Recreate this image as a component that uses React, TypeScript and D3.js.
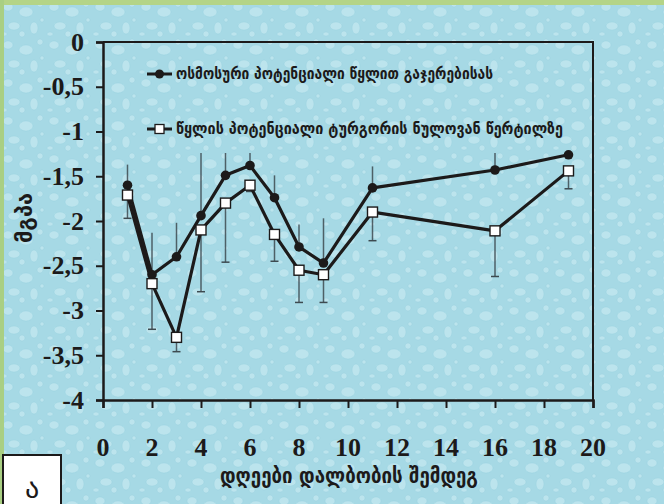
import React, { useEffect, useRef } from 'react';
import * as d3 from 'd3';

// days after soaking
const days = [1, 2, 3, 4, 5, 6, 7, 8, 9, 11, 16, 19];
// osmotic potential at full saturation (MPa)
const osmotic = [-1.6, -2.6, -2.4, -1.94, -1.49, -1.38, -1.74, -2.29, -2.47, -1.63, -1.43, -1.26];
const osmoticErr = [0.23, 0.47, 0.38, 0.7, 0.25, 0.14, 0.25, 0.25, 0.5, 0.24, 0.19, 0];
// water potential at zero turgor point (MPa)
const turgorZero = [-1.71, -2.7, -3.3, -2.1, -1.8, -1.6, -2.15, -2.55, -2.6, -1.9, -2.11, -1.44];
const turgorZeroErr = [0.26, 0.51, 0.16, 0.69, 0.66, 0.07, 0.3, 0.36, 0.31, 0.32, 0.51, 0.2];

const xTicks = [0, 2, 4, 6, 8, 10, 12, 14, 16, 18, 20];
const yTicks = [0, -0.5, -1, -1.5, -2, -2.5, -3, -3.5, -4];

const legendLabels = [
    'ოსმოსური პოტენციალი წყლით გაჯერებისას',
    'წყლის პოტენციალი ტურგორის ნულოვან წერტილზე',
];
const xTitle = 'დღეები დალბობის შემდეგ';
const yTitle = 'მგპა';
const panelLabel = 'ა';

const App: React.FC = () => {
    const svgRef = useRef<SVGSVGElement>(null);

    const width = 664;
    const height = 504;

    useEffect(() => {
        if (!svgRef.current) return;
        const svg = d3.select(svgRef.current);
        svg.selectAll('*').remove();

        const margin = { top: 42, right: 71, bottom: 104, left: 103 };
        const innerWidth = width - margin.left - margin.right;
        const innerHeight = height - margin.top - margin.bottom;

        // background with a faint droplet texture
        const defs = svg.append('defs');
        const pat = defs.append('pattern')
            .attr('id', 'drops')
            .attr('patternUnits', 'userSpaceOnUse')
            .attr('width', 46)
            .attr('height', 38);
        pat.append('rect').attr('width', 46).attr('height', 38).attr('fill', '#a6d9e5');
        const drops = [
            [8, 7, 5, 4], [26, 12, 7, 5], [40, 4, 3, 3], [14, 26, 6, 4],
            [34, 28, 4, 6], [4, 34, 3, 2], [22, 34, 3, 3], [42, 20, 2, 2],
        ];
        drops.forEach(([cx, cy, rx, ry]) => {
            pat.append('ellipse')
                .attr('cx', cx).attr('cy', cy).attr('rx', rx).attr('ry', ry)
                .attr('fill', '#d2f0f6').attr('opacity', 0.5)
                .attr('stroke', '#74bcd0').attr('stroke-opacity', 0.4).attr('stroke-width', 0.8);
        });

        svg.append('rect').attr('width', width).attr('height', height).attr('fill', 'url(#drops)');
        svg.append('rect').attr('width', width).attr('height', 5).attr('fill', '#b4d487');
        svg.append('rect').attr('width', 4).attr('height', height).attr('fill', '#a9cf83');

        const xScale = d3.scaleLinear().domain([0, 20]).range([0, innerWidth]);
        const yScale = d3.scaleLinear().domain([-4, 0]).range([innerHeight, 0]);

        const g = svg.append('g')
            .attr('transform', `translate(${margin.left},${margin.top})`);

        const ink = '#1c1a1a';
        const numFont = 'Liberation Serif';
        const geoFont = 'DejaVu Sans';

        // frame (top + right)
        g.append('path')
            .attr('d', `M0,0H${innerWidth}V${innerHeight}`)
            .attr('fill', 'none')
            .attr('stroke', ink)
            .attr('stroke-width', 2);

        const fmt = (d: number) => String(d).replace('.', ',');

        const xAxis = g.append('g')
            .attr('transform', `translate(0,${innerHeight})`)
            .call(d3.axisBottom(xScale).tickValues(xTicks).tickSize(8).tickFormat(() => ''));
        const yAxis = g.append('g')
            .call(d3.axisLeft(yScale).tickValues(yTicks).tickSize(7).tickFormat(() => ''));

        [xAxis, yAxis].forEach(ax => {
            ax.select('.domain').attr('stroke', ink).attr('stroke-width', 2.5);
            ax.selectAll('.tick line').attr('stroke', ink).attr('stroke-width', 2);
        });

        // tick labels
        g.selectAll('.xlab')
            .data(xTicks)
            .join('text')
            .attr('x', d => xScale(d))
            .attr('y', innerHeight + 47)
            .attr('dy', '0.35em')
            .attr('text-anchor', 'middle')
            .attr('fill', ink)
            .attr('font-family', numFont)
            .attr('font-weight', 'bold')
            .attr('font-size', 26)
            .text(d => fmt(d));

        g.selectAll('.ylab')
            .data(yTicks)
            .join('text')
            .attr('x', -19)
            .attr('y', d => yScale(d))
            .attr('dy', '0.33em')
            .attr('text-anchor', 'end')
            .attr('fill', ink)
            .attr('font-family', numFont)
            .attr('font-weight', 'bold')
            .attr('font-size', 26)
            .text(d => fmt(d));

        // error bars
        const errColor = '#3d4a50';
        g.selectAll('.err-up')
            .data(days)
            .join('line')
            .attr('x1', d => xScale(d)).attr('x2', d => xScale(d))
            .attr('y1', (d, i) => yScale(osmotic[i]))
            .attr('y2', (d, i) => yScale(osmotic[i] + osmoticErr[i]))
            .attr('stroke', errColor)
            .attr('stroke-opacity', 0.85)
            .attr('stroke-width', 1.5);

        g.selectAll('.err-down')
            .data(days)
            .join('line')
            .attr('x1', d => xScale(d)).attr('x2', d => xScale(d))
            .attr('y1', (d, i) => yScale(turgorZero[i]))
            .attr('y2', (d, i) => yScale(turgorZero[i] - turgorZeroErr[i]))
            .attr('stroke', errColor)
            .attr('stroke-opacity', 0.85)
            .attr('stroke-width', 1.5);

        g.selectAll('.err-cap')
            .data(days)
            .join('line')
            .attr('x1', d => xScale(d) - 4).attr('x2', d => xScale(d) + 4)
            .attr('y1', (d, i) => yScale(turgorZero[i] - turgorZeroErr[i]))
            .attr('y2', (d, i) => yScale(turgorZero[i] - turgorZeroErr[i]))
            .attr('stroke', errColor)
            .attr('stroke-width', 1.5);

        const line = d3.line<[number, number]>()
            .x(d => xScale(d[0]))
            .y(d => yScale(d[1]));

        const s1 = days.map((d, i) => [d, osmotic[i]] as [number, number]);
        const s2 = days.map((d, i) => [d, turgorZero[i]] as [number, number]);

        g.append('path')
            .datum(s2)
            .attr('fill', 'none')
            .attr('stroke', ink)
            .attr('stroke-width', 3.2)
            .attr('stroke-linejoin', 'round')
            .attr('d', line);

        g.append('path')
            .datum(s1)
            .attr('fill', 'none')
            .attr('stroke', ink)
            .attr('stroke-width', 3.2)
            .attr('stroke-linejoin', 'round')
            .attr('d', line);

        g.selectAll('.pt1')
            .data(s1)
            .join('circle')
            .attr('cx', d => xScale(d[0]))
            .attr('cy', d => yScale(d[1]))
            .attr('r', 4.8)
            .attr('fill', ink);

        g.selectAll('.pt2')
            .data(s2)
            .join('rect')
            .attr('x', d => xScale(d[0]) - 5)
            .attr('y', d => yScale(d[1]) - 5)
            .attr('width', 10)
            .attr('height', 10)
            .attr('fill', '#ffffff')
            .attr('stroke', ink)
            .attr('stroke-width', 1.4);

        // legend
        const legendY = [74, 129];
        const legendEnd = [493, 563];
        legendLabels.forEach((label, i) => {
            const lg = svg.append('g');
            lg.append('line')
                .attr('x1', 147).attr('x2', 172)
                .attr('y1', legendY[i]).attr('y2', legendY[i])
                .attr('stroke', ink).attr('stroke-width', 3);
            if (i === 0) {
                lg.append('circle').attr('cx', 159.5).attr('cy', legendY[i]).attr('r', 4.5).attr('fill', ink);
            } else {
                lg.append('rect')
                    .attr('x', 155).attr('y', legendY[i] - 4.5)
                    .attr('width', 9).attr('height', 9)
                    .attr('fill', '#fff').attr('stroke', ink).attr('stroke-width', 1.3);
            }
            lg.append('text')
                .attr('x', 176)
                .attr('y', legendY[i])
                .attr('dy', '0.32em')
                .attr('textLength', legendEnd[i] - 176)
                .attr('lengthAdjust', 'spacingAndGlyphs')
                .attr('fill', ink)
                .attr('font-family', geoFont)
                .attr('font-weight', 'bold')
                .attr('font-size', 16)
                .text(label);
        });

        // axis titles
        svg.append('text')
            .attr('x', 349)
            .attr('y', 476)
            .attr('text-anchor', 'middle')
            .attr('dy', '0.32em')
            .attr('textLength', 258)
            .attr('lengthAdjust', 'spacingAndGlyphs')
            .attr('fill', ink)
            .attr('font-family', geoFont)
            .attr('font-weight', 'bold')
            .attr('font-size', 21)
            .text(xTitle);

        svg.append('text')
            .attr('transform', 'translate(25,218) rotate(-90)')
            .attr('text-anchor', 'middle')
            .attr('dy', '0.32em')
            .attr('textLength', 50)
            .attr('lengthAdjust', 'spacingAndGlyphs')
            .attr('fill', ink)
            .attr('font-family', geoFont)
            .attr('font-weight', 'bold')
            .attr('font-size', 21)
            .text(yTitle);

        // panel label box
        svg.append('rect')
            .attr('x', 3).attr('y', 455)
            .attr('width', 58).attr('height', 52)
            .attr('fill', '#ffffff')
            .attr('stroke', ink)
            .attr('stroke-width', 2);
        svg.append('text')
            .attr('x', 32).attr('y', 489)
            .attr('text-anchor', 'middle')
            .attr('dy', '0.32em')
            .attr('fill', ink)
            .attr('font-family', geoFont)
            .attr('font-size', 28)
            .text(panelLabel);
    }, []);

    return (
        <svg ref={svgRef} width={width} height={height}
            style={{ position: 'absolute', left: 0, top: 0, display: 'block' }}></svg>
    );
};

export default App;
